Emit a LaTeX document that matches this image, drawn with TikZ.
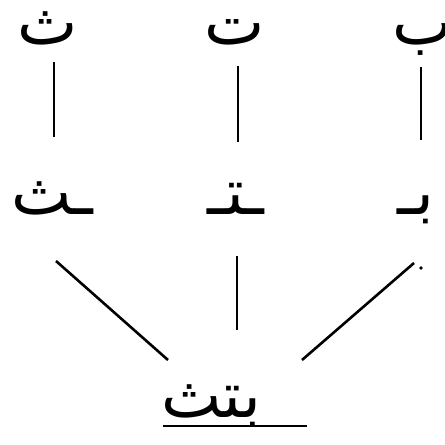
\documentclass[tikz,border=0pt]{standalone}
\usepackage{fontspec}
\newfontfamily\arabicfont[Script=Arabic]{DejaVu Sans}
\usetikzlibrary{calc}
\begin{document}
\begin{tikzpicture}[x=1pt,y=-1pt,
  glyph/.style={inner sep=0pt,anchor=base,font=\arabicfont\fontsize{64}{70}\selectfont},
  link/.style={line width=2.6pt}]
\useasboundingbox (0,0) rectangle (445,445);
\fill[white] (0,0) rectangle (445,445);
% top row
\node[glyph] (t1) at (48,44) {ث};
\node[glyph] (t2) at (235,44) {ت};
\node[glyph] (t3) at (423,44) {ب};
% middle row
\node[glyph] (m1) at (52,214) {ـث};
\node[glyph] (m2) at (236,214) {ـتـ};
\node[glyph] (m3) at (416,214) {بـ};
% bottom word
\node[glyph] (b) at (211,417) {بتث};
\coordinate (u) at (307,426);
% connectors
\draw[link] ($(t1.base)+(6,18)$) -- ($(m1.base)+(2,-77)$);
\draw[link] ($(t2.base)+(3,22)$) -- ($(m2.base)+(2,-72)$);
\draw[link] ($(t3.base)+(-2,23)$) -- ($(m3.base)+(5,-74)$);
\draw[link] ($(m1.base)+(4,47)$) -- ($(b.base)+(-43,-57)$);
\draw[link] ($(m2.base)+(1,42)$) -- ($(b.base)+(26,-87)$);
\draw[link] ($(m3.base)+(-2,49)$) -- ($(b.base)+(91,-57)$);
\fill ($(m3.base)+(5,54)$) circle (1.8);
\draw[link] ($(b.base)+(-48,9)$) -- (u);
\end{tikzpicture}
\end{document}
